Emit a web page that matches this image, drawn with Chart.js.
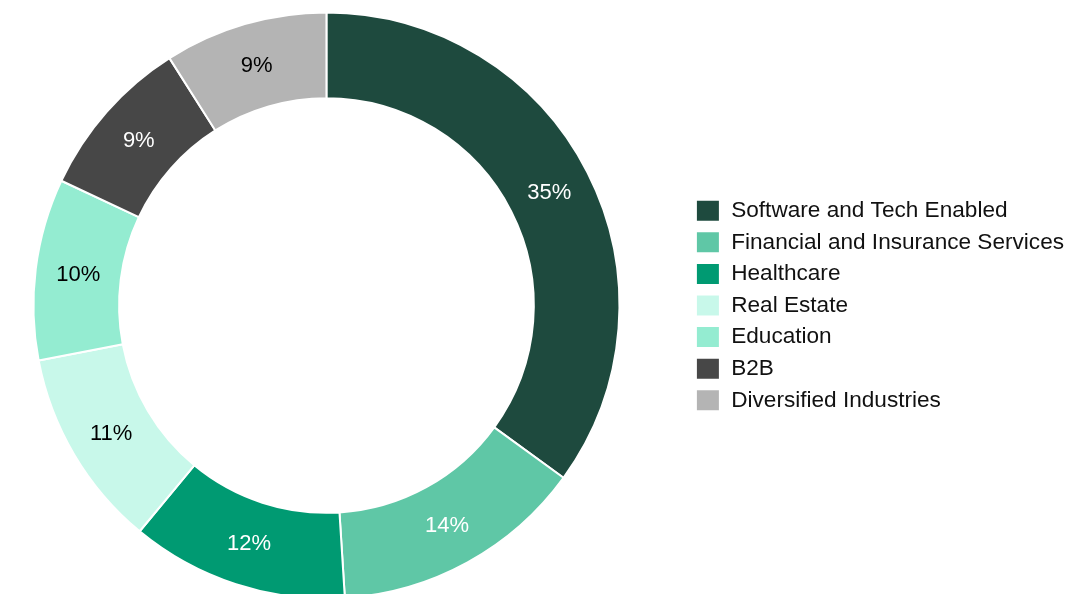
<!DOCTYPE html>
<html>
<head>
<meta charset="utf-8">
<script src="https://cdn.jsdelivr.net/npm/chart.js@4"></script>
<style>
  html, body { margin: 0; padding: 0; background: #fff; overflow: hidden; }
  #wrap { position: absolute; left: -34px; top: 0; width: 1108px; height: 600px; }
</style>
</head>
<body>
<div id="wrap"><canvas id="sectors"></canvas></div>
<script>
const categories = [
    "Software and Tech Enabled",
    "Financial and Insurance Services",
    "Healthcare",
    "Real Estate",
    "Education",
    "B2B",
    "Diversified Industries"
];
const shares = [35, 14, 12, 11, 10, 9, 9];
const sliceColors = ["#1e4a3e", "#5fc7a6", "#009a72", "#c8f8ea", "#94ecd1", "#474747", "#b4b4b4"];
const labelColors = ["#fff", "#fff", "#fff", "#000", "#000", "#fff", "#000"];

const fontFamily = "'Liberation Sans', Arial, sans-serif";

// draws the percentage in the middle of each slice
const sliceLabels = {
    id: "sliceLabels",
    afterDatasetsDraw(chart) {
        const ctx = chart.ctx;
        const meta = chart.getDatasetMeta(0);
        ctx.save();
        ctx.font = "22px " + fontFamily;
        ctx.textAlign = "center";
        ctx.textBaseline = "middle";
        meta.data.forEach((arc, i) => {
            const pos = arc.tooltipPosition();
            ctx.fillStyle = labelColors[i];
            ctx.fillText(shares[i] + "%", pos.x, pos.y + 1);
        });
        ctx.restore();
    }
};

const context = document.getElementById("sectors").getContext("2d");
const doughnut = new Chart(context, {
    type: "doughnut",
    data: {
        labels: categories,
        datasets: [{
            data: shares,
            backgroundColor: sliceColors,
            borderColor: "#fff",
            borderWidth: 2
        }]
    },
    options: {
        responsive: true,
        maintainAspectRatio: false,
        animation: false,
        radius: 293,
        cutout: 207,
        layout: {
            padding: { left: 0, right: 0, top: 12, bottom: 1 }
        },
        plugins: {
            legend: {
                position: "right",
                labels: {
                    boxWidth: 24,
                    boxHeight: 22,
                    padding: 9,
                    color: "#111",
                    font: { size: 22.6, family: fontFamily }
                }
            },
            tooltip: { enabled: false }
        }
    },
    plugins: [sliceLabels]
});
</script>
</body>
</html>
